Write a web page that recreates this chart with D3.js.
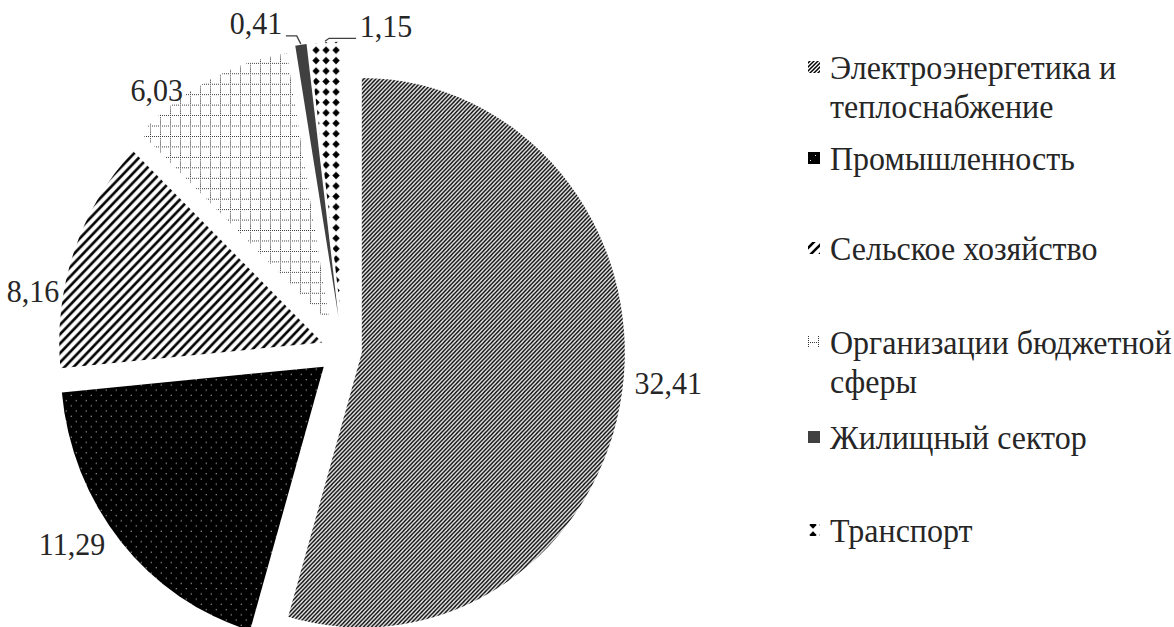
<!DOCTYPE html>
<html>
<head>
<meta charset="utf-8">
<script src="https://cdn.jsdelivr.net/npm/d3@7"></script>
<style>
  body { margin: 0; background: #fff; }
</style>
</head>
<body>
<svg id="chart" width="1174" height="627"></svg>
<script>
// Data
const categories = ["Электроэнергетика и теплоснабжение", "Промышленность", "Сельское хозяйство",
    "Организации бюджетной сферы", "Жилищный сектор", "Транспорт"];
const values = [32.41, 11.29, 8.16, 6.03, 0.41, 1.15];
const valueLabels = ["32,41", "11,29", "8,16", "6,03", "0,41", "1,15"];
const legendLines = [["Электроэнергетика и", "теплоснабжение"], ["Промышленность"], ["Сельское хозяйство"],
    ["Организации бюджетной", "сферы"], ["Жилищный сектор"], ["Транспорт"]];

// Layout / style
const cx = 343, cy = 350, rx = 263, sy = 1.045;
const explode = [19, 25, 22, 28, 32, 32];
const labelNudge = [[46, -9], [-49, 2], [-41, 39], [-51, 9], [-45, -22], [61, -17]];
const legendY = [67, 158, 248, 342, 437, 530];
const labelSize = 30, legendSize = 32, textSy = 1.07;
const font = '"Liberation Serif"';

const svg = d3.select("#chart");
const defs = svg.append("defs");

function pattern(id, w, h, draw) {
    const p = defs.append("pattern")
        .attr("id", id)
        .attr("patternUnits", "userSpaceOnUse")
        .attr("width", w)
        .attr("height", h);
    draw(p);
}

// fine diagonal lines
pattern("p0", 4, 4, p => {
    p.append("rect").attr("width", 4).attr("height", 4).attr("fill", "#fff");
    p.append("path").attr("d", "M-1,1 L1,-1 M0,4 L4,0 M3,5 L5,3")
        .attr("stroke", "#000").attr("stroke-width", 1.5);
});
// black with white dots
pattern("p1", 10, 10, p => {
    p.append("rect").attr("width", 10).attr("height", 10).attr("fill", "#000");
    p.append("rect").attr("x", 2).attr("y", 2).attr("width", 1).attr("height", 1).attr("fill", "#ddd");
    p.append("rect").attr("x", 7).attr("y", 7).attr("width", 1).attr("height", 1).attr("fill", "#ddd");
});
// wide diagonal lines
pattern("p2", 9, 9, p => {
    p.append("rect").attr("width", 9).attr("height", 9).attr("fill", "#fff");
    p.append("path").attr("d", "M-2,2 L2,-2 M0,9 L9,0 M7,11 L11,7")
        .attr("stroke", "#000").attr("stroke-width", 2.6);
});
// dotted grid
pattern("p3", 10, 10, p => {
    p.append("rect").attr("width", 10).attr("height", 10).attr("fill", "#fff");
    p.append("path").attr("d", "M0,0.5 H10 M0.5,0 V10")
        .attr("stroke", "#333").attr("stroke-width", 1).attr("stroke-dasharray", "1,1");
});
// solid gray
pattern("p4", 4, 4, p => {
    p.append("rect").attr("width", 4).attr("height", 4).attr("fill", "#404040");
});
// diamonds
pattern("p5", 10, 10, p => {
    p.append("rect").attr("width", 10).attr("height", 10).attr("fill", "#fff");
    p.append("path").attr("d", "M5,1.3 L8.7,5 L5,8.7 L1.3,5Z").attr("fill", "#000");
});

const pie = d3.pie().sort(null).value(d => d);
const arcs = pie(values);
const arc = d3.arc().innerRadius(0).outerRadius(rx);

function apexOf(d, i) {
    const m = (d.startAngle + d.endAngle) / 2;
    return [cx + explode[i] * Math.sin(m), cy - explode[i] * Math.cos(m) * sy];
}
function outerPoint(d, i, r) {
    const m = (d.startAngle + d.endAngle) / 2;
    const [ax, ay] = apexOf(d, i);
    return [ax + r * Math.sin(m), ay - r * Math.cos(m) * sy];
}

// Slices
svg.append("g").selectAll("g.slice")
    .data(arcs)
    .join("g")
    .attr("class", "slice")
    .attr("transform", (d, i) => {
        const [ax, ay] = apexOf(d, i);
        return `translate(${ax},${ay}) scale(1,${sy})`;
    })
    .append("path")
    .attr("d", arc)
    .attr("fill", (d, i) => `url(#p${i})`);

// Value labels
const labelPos = arcs.map((d, i) => {
    const [x, y] = outerPoint(d, i, rx);
    return [x + labelNudge[i][0], y + labelNudge[i][1]];
});

svg.append("g").selectAll("g.lbl")
    .data(arcs)
    .join("g")
    .attr("class", "lbl")
    .attr("transform", (d, i) => `translate(${labelPos[i][0]},${labelPos[i][1]}) scale(1,${textSy})`)
    .append("text")
    .attr("text-anchor", "middle")
    .attr("dy", "0.35em")
    .style("font-family", font)
    .attr("font-size", labelSize)
    .attr("fill", "#262626")
    .text((d, i) => valueLabels[i]);

// Leader lines for the two thin slices
[4, 5].forEach(i => {
    const d = arcs[i];
    const [px, py] = outerPoint(d, i, rx + 1);
    const side = labelPos[i][0] < px ? -1 : 1;
    const ly = labelPos[i][1] + 13;
    const edge = labelPos[i][0] - side * 30;
    svg.append("path")
        .attr("d", `M${px},${py} L${px + side * 4},${ly} L${edge},${ly}`)
        .attr("fill", "none")
        .attr("stroke", "#404040")
        .attr("stroke-width", 1.3);
});

// Legend
const legend = svg.append("g");
categories.forEach((c, i) => {
    const g = legend.append("g").attr("transform", `translate(808,${legendY[i]})`);
    g.append("rect")
        .attr("x", 0).attr("y", -6)
        .attr("width", 12).attr("height", 12)
        .attr("fill", `url(#p${i})`);
    legendLines[i].forEach((line, k) => {
        g.append("g")
            .attr("transform", `translate(22,${k * 39}) scale(1,${textSy})`)
            .append("text")
            .attr("dy", "0.35em")
            .style("font-family", font)
            .attr("font-size", legendSize)
            .attr("fill", "#262626")
            .text(line);
    });
});
</script>
</body>
</html>
